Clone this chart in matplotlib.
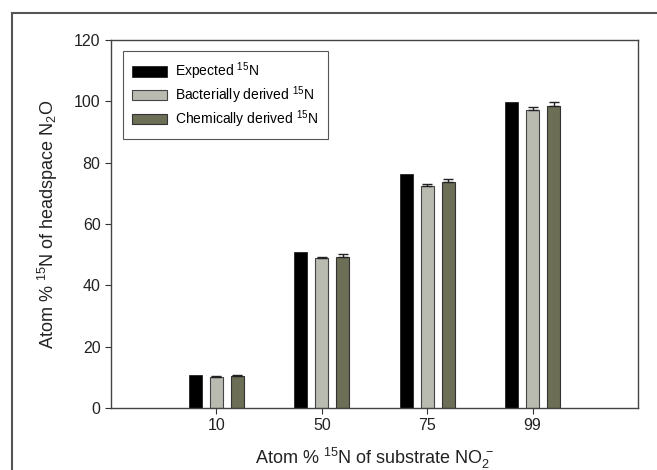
import matplotlib
matplotlib.use("Agg")
import matplotlib.pyplot as plt
from matplotlib.lines import Line2D
import numpy as np

plt.rcParams['font.family'] = ['Liberation Sans', 'DejaVu Sans']
plt.rcParams['mathtext.fontset'] = 'custom'
plt.rcParams['mathtext.rm'] = 'Liberation Sans'
plt.rcParams['mathtext.it'] = 'Liberation Sans:italic'

categories = ['10', '50', '75', '99']
expected = [10.8, 50.9, 76.3, 99.7]
bacterial = [10.1, 48.8, 72.4, 97.2]
bacterial_err = [0.2, 0.3, 0.5, 1.0]
chemical = [10.5, 49.3, 73.8, 98.6]
chemical_err = [0.2, 0.8, 1.0, 1.3]

fig = plt.figure(figsize=(6.57, 4.70), dpi=100)
ax = fig.add_axes([0.169, 0.132, 0.802, 0.783])

x = np.arange(1, len(categories) + 1)
w = 0.125
ekw = dict(elinewidth=1.0, capthick=1.0, ecolor='#222222')
ax.bar(x - 0.2, expected, w, color='black', edgecolor='#222222', lw=0.6,
       label='Expected $^{15}$N')
ax.bar(x, bacterial, w, color='#b9bab0', edgecolor='#444444', lw=0.8,
       yerr=[np.zeros(4), bacterial_err], capsize=3.5, error_kw=ekw,
       label='Bacterially derived $^{15}$N')
ax.bar(x + 0.2, chemical, w, color='#6c6e55', edgecolor='#333333', lw=0.8,
       yerr=[np.zeros(4), chemical_err], capsize=3.5, error_kw=ekw,
       label='Chemically derived $^{15}$N')

ax.set_xlim(0, 5)
ax.set_ylim(0, 120)
ax.set_xticks(x)
ax.set_xticklabels(categories)
ax.set_yticks(range(0, 121, 20))
ax.tick_params(labelsize=11.5, length=4, width=0.8, colors='#333333', labelcolor='#222222')
for s in ax.spines.values():
    s.set_color('#444444')
    s.set_linewidth(1.0)

ax.set_xlabel('Atom % $^{15}$N of substrate NO$_2^{\\,-}$', fontsize=13, labelpad=9, color='#222222')
ax.set_ylabel('Atom % $^{15}$N of headspace N$_2$O', fontsize=13, labelpad=10, color='#222222')

leg = ax.legend(loc='upper left', bbox_to_anchor=(0.022, 0.97), fontsize=10,
                fancybox=False, framealpha=1, edgecolor='#555555',
                handlelength=2.5, handleheight=0.75, borderpad=0.7,
                labelspacing=0.15, handletextpad=0.6, borderaxespad=0)
leg.get_frame().set_linewidth(0.8)

fig.add_artist(Line2D([0.018, 1.0], [0.972, 0.972], transform=fig.transFigure,
                      color='#555555', lw=1.5))
fig.add_artist(Line2D([0.018, 0.018], [0.0, 0.972], transform=fig.transFigure,
                      color='#555555', lw=1.5))

fig.savefig('out.png', dpi=100)
